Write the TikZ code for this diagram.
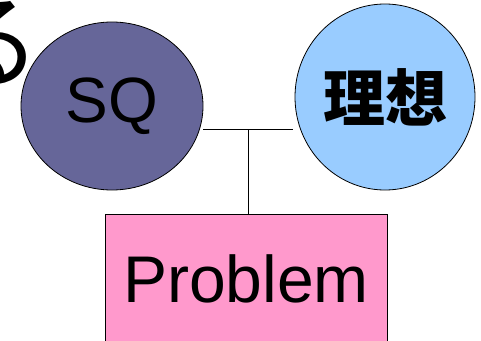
\documentclass[tikz,border=0pt]{standalone}
\usepackage{fontspec}
\setmainfont{Liberation Sans}
\newfontfamily\cjk{Noto Sans CJK JP}
\usetikzlibrary{shapes.geometric}

\tikzset{
	bubble/.style={ellipse, draw=black, thick, inner sep=0pt},
	probbox/.style={rectangle, draw=black, thick, fill=probpink, inner sep=0pt},
	link/.style={draw=black, thick}
}
\definecolor{sqblue}{HTML}{666699}
\definecolor{idealblue}{HTML}{99CCFF}
\definecolor{probpink}{HTML}{FF99CC}

\begin{document}
\begin{tikzpicture}[x=1pt, y=-1pt]
		\useasboundingbox (0, 0) rectangle (481, 340);
		\clip (0, 0) rectangle (481, 340);

		% cut-off character in the corner
		\node[anchor=base east, inner sep=0pt, font=\cjk\fontsize{105}{105}\selectfont] (ru) at (42, 80) {る};

		\node[bubble, fill=sqblue, minimum width=182pt, minimum height=168pt,
			font=\fontsize{64}{64}\selectfont] (sq) at (112, 106) {SQ};
		\node[bubble, fill=idealblue, minimum width=180pt, minimum height=186pt,
			font=\cjk\bfseries\fontsize{62}{62}\selectfont] (ideal) at (385, 97) {理想};
		\node[probbox, minimum width=282pt, minimum height=146pt, text depth=0pt,
			font=\fontsize{66}{66}\selectfont] (prob) at (246, 287) {};
		\node[inner sep=0pt, font=\fontsize{66}{66}\selectfont, anchor=base] (probtext) at (246, 302) {Problem};

		\coordinate (sqend) at (203, 129);
		\coordinate (idealend) at (293, 129);
		\coordinate (join) at (248, 129);
		\draw[link] (sqend) -- (idealend);
		\draw[link] (join) -- (join |- prob.north);
	\end{tikzpicture}
\end{document}
